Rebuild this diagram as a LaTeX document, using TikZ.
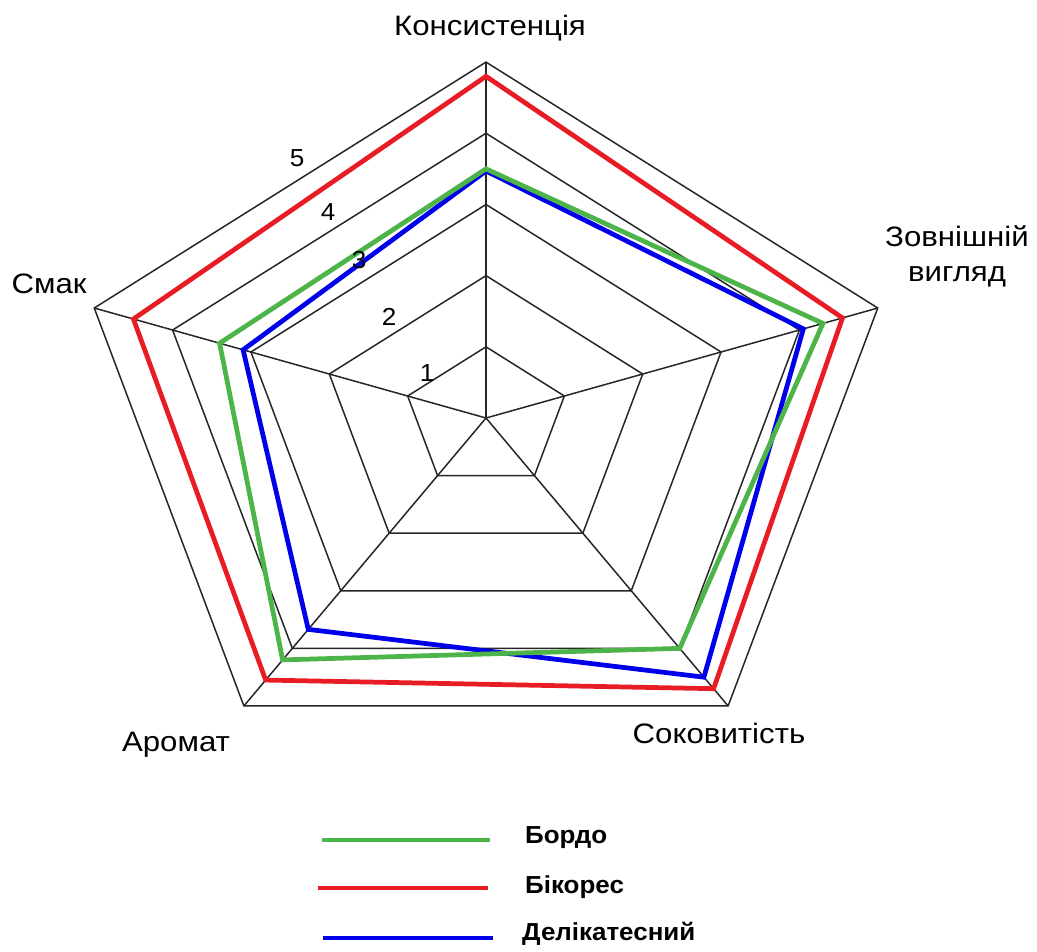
\documentclass[tikz,border=0pt]{standalone}
\usepackage{fontspec}
\usepackage{graphicx}
\setmainfont{Liberation Sans}
\usetikzlibrary{positioning}
\definecolor{bordogreen}{RGB}{76,180,72}
\definecolor{bikoresred}{RGB}{232,28,36}
\definecolor{delikblue}{RGB}{0,0,235}

\newcommand{\widetext}[2][1.11]{\scalebox{#1}[1]{#2}}

\tikzset{
  gridline/.style={black!85, line width=0.85pt},
  series/.style={line width=2.7pt, line join=miter},
  legendline/.style={line width=2.3pt},
  axislabel/.style={font=\fontsize{16}{20}\selectfont},
  ticklabel/.style={font=\fontsize{14}{17}\selectfont},
  legendlabel/.style={font=\fontsize{14}{17}\selectfont\bfseries, anchor=west},
}

\begin{document}
\begin{tikzpicture}[x=0.02cm, y=-0.02cm]
	\useasboundingbox (0,0) rectangle (1037,951);
	
	\begin{scope}[shift={(486,418)}, x=1.648cm, y=1.424cm]
		% grid
		\foreach \r in {1,...,5}
			\draw[gridline] (90:\r) -- (18:\r) -- (-54:\r) -- (-126:\r) -- (162:\r) -- cycle;
		\foreach \a in {90,18,-54,-126,162}
			\draw[gridline] (0,0) -- (\a:5);
		
		% series
		\draw[series, delikblue] (90:3.47) -- (18:4.05) -- (-54:4.5) -- (-126:3.67) -- (162:3.1) -- cycle;
		\draw[series, bordogreen] (90:3.5) -- (18:4.3) -- (-54:4.0) -- (-126:4.2) -- (162:3.4) -- cycle;
		\draw[series, bikoresred] (90:4.8) -- (18:4.55) -- (-54:4.7) -- (-126:4.55) -- (162:4.5) -- cycle;
	\end{scope}
	
	% scale
	\foreach \x/\y/\t in {427/373/1, 389/317/2, 359/260/3, 328/212/4, 297/158/5}
		\node[ticklabel] (tick\t) at (\x,\y) {\widetext[1.06]{\t}};
	
	\node[axislabel] (konsyst) at (490,28) {\widetext{Консистенція}};
	\node[axislabel] (zovn) at (957,257) {\widetext{\begin{tabular}{@{}c@{}}Зовнішній\\вигляд\end{tabular}}};
	\node[axislabel] (sokov) at (719,733) {\widetext{Соковитість}};
	\node[axislabel] (aromat) at (176,745) {\widetext{Аромат}};
	\node[axislabel] (smak) at (49,284) {\widetext{Смак}};
	
	% legend
	\node[legendlabel] (bordo) at (519,838) {\widetext[1.055]{Бордо}};
	\node[legendlabel] (bikores) at (519,887) {\widetext[1.055]{Бікорес}};
	\node[legendlabel] (delik) at (516,934) {\widetext[1.055]{Делікатесний}};
	\coordinate (bordoa) at (322,840);
	\coordinate (bordob) at (490,840);
	\coordinate (bikoresa) at (318,888);
	\coordinate (bikoresb) at (488,888);
	\coordinate (delika) at (323,938);
	\coordinate (delikb) at (493,938);
	\draw[legendline, bordogreen] (bordoa) -- (bordob);
	\draw[legendline, bikoresred] (bikoresa) -- (bikoresb);
	\draw[legendline, delikblue] (delika) -- (delikb);
\end{tikzpicture}
\end{document}
